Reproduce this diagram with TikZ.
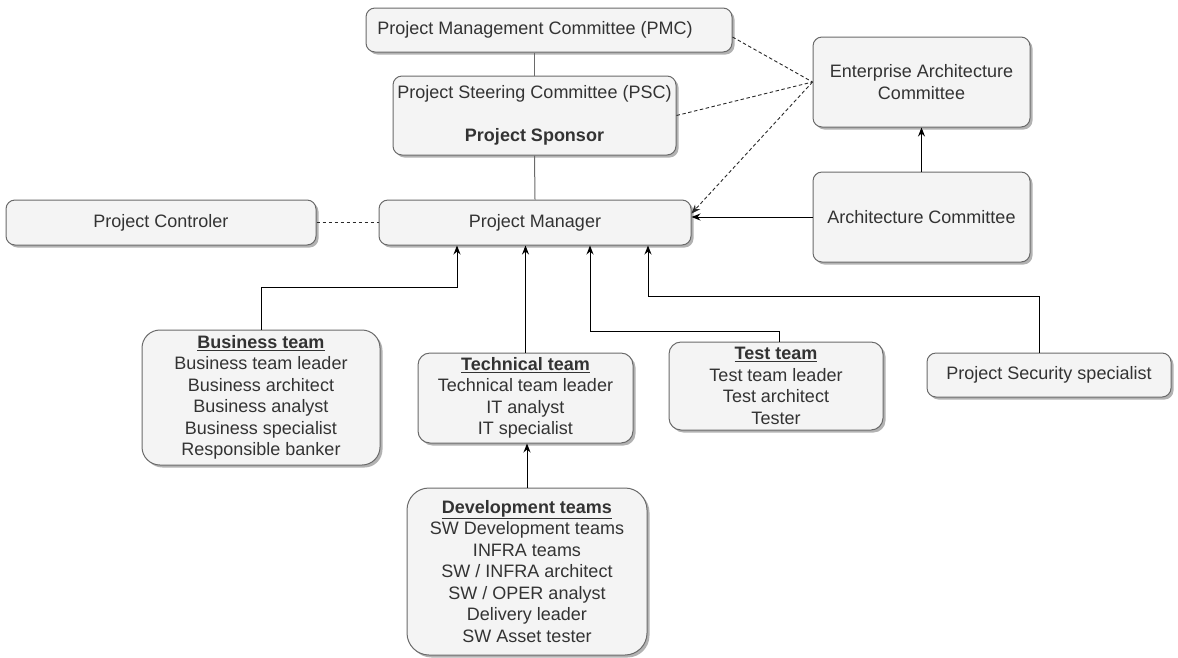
\documentclass[tikz,border=0pt]{standalone}
\usepackage{fontspec}
\setmainfont{Liberation Sans}
\usetikzlibrary{shadows,arrows.meta}
\definecolor{boxfill}{HTML}{F4F4F4}
\definecolor{boxline}{HTML}{6A6A6A}
\definecolor{txt}{HTML}{333333}
\definecolor{wire}{HTML}{2A2A2A}

\tikzset{
  role/.style={draw=boxline, fill=boxfill, rounded corners=9pt, text=txt,
    align=center, font=\fontsize{18}{21.5}\selectfont, inner sep=0pt,
    line width=1pt,
    drop shadow={shadow xshift=2.5pt, shadow yshift=-2.5pt, opacity=0.3, fill=black}},
  bigrole/.style={role, rounded corners=18pt},
  link/.style={draw=boxline, line width=1pt},
  feed/.style={draw=black, line width=1pt, -{Stealth[length=9pt,width=7pt]}},
  advise/.style={draw=wire, line width=0.9pt, dash pattern=on 3.5pt off 2.5pt}
}
\newcommand{\teamhead}[1]{\underline{\textbf{#1}}}

\begin{document}
\begin{tikzpicture}[x=1pt,y=-1pt]
\useasboundingbox (0,0) rectangle (1178,657);

% governance
\node[role, minimum width=366pt, minimum height=44pt] (pmc) at (549,30)
  {Project Management Committee (PMC)\hspace*{28pt}};
\node[role, minimum width=283pt, minimum height=79pt] (psc) at (534.5,115.5)
  {Project Steering Committee (PSC)\\[21.5pt]\textbf{Project Sponsor}};
\node[role, minimum width=312pt, minimum height=45pt] (pm) at (535,222.5)
  {Project Manager};
\node[role, minimum width=310pt, minimum height=45pt] (pc) at (161,222.5)
  {Project Controler};
\node[role, minimum width=217pt, minimum height=90pt] (eac) at (921.5,82)
  {Enterprise Architecture\\Committee};
\node[role, minimum width=217pt, minimum height=90pt] (ac) at (921.5,217)
  {Architecture Committee};

% teams
\node[bigrole, minimum width=238pt, minimum height=135pt] (bt) at (261,397.5)
  {\teamhead{Business team}\\Business team leader\\Business architect\\Business analyst\\Business specialist\\Responsible banker};
\node[role, rounded corners=12pt, minimum width=215pt, minimum height=90pt] (tt) at (525.5,398)
  {\teamhead{Technical team}\\Technical team leader\\IT analyst\\IT specialist};
\node[role, rounded corners=12pt, minimum width=214pt, minimum height=88pt] (tet) at (776,386)
  {\teamhead{Test team}\\Test team leader\\Test architect\\Tester};
\node[bigrole, rounded corners=22pt, minimum width=240pt, minimum height=167pt] (dev) at (527,571.5)
  {\teamhead{Development teams}\\SW Development teams\\INFRA teams\\SW / INFRA architect\\SW / OPER analyst\\Delivery leader\\SW Asset tester};
\node[role, minimum width=244pt, minimum height=44pt] (sec) at (1049,375)
  {Project Security specialist};

% hierarchy lines
\draw[link] (psc.north) -- (psc.north |- pmc.south);
\draw[link] (psc.south) -- (pm.north);
\draw[advise] (pc.east) -- (pm.west);

% advisory links to the enterprise architecture committee
\coordinate (hub) at (eac.west);
\draw[advise] ([yshift=-7pt]pmc.east) -- (hub);
\draw[advise] (psc.east) -- (hub);
\draw[advise, -{Stealth[length=9pt,width=7pt]}] (hub) -- ([yshift=9pt]pm.east);

% reporting lines
\draw[feed] (ac.west) -- (ac.west -| pm.east);
\draw[feed] (ac.north) -- (eac.south);
\draw[feed] (bt.north) -- (bt.north |- 0,287) -| ([xshift=-78pt]pm.south);
\draw[feed] (tt.north) -- (tt.north |- pm.south);
\draw[feed] ([xshift=3pt]tet.north) -- ([xshift=3pt]tet.north |- 0,331) -| ([xshift=55pt]pm.south);
\draw[feed] ([xshift=-10pt]sec.north) -- ([xshift=-10pt]sec.north |- 0,296) -| ([xshift=113pt]pm.south);
\draw[feed] (dev.north) -- (dev.north |- tt.south);
\end{tikzpicture}
\end{document}
